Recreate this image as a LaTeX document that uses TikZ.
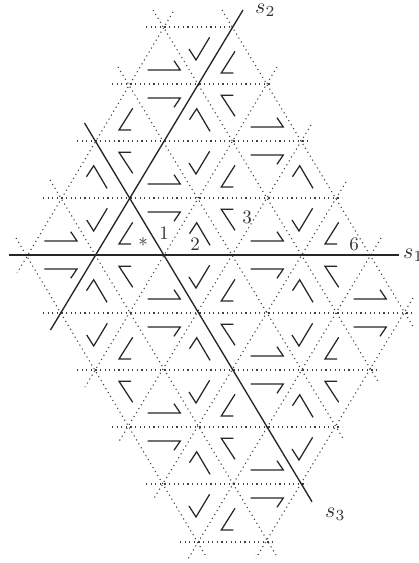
\documentclass[tikz,border=0pt]{standalone}
\usepackage{graphicx}
\newcommand{\lbl}[1]{\scalebox{1.9}{#1}}
\newcommand{\lbs}[1]{\scalebox{2.2}{#1}}
\newcommand{\flagA}[2]{\draw[flag,shift={(#1,#2)}] (-16.3,-14) -- (16.3,-14) -- (10,-23.3);}
\newcommand{\flagB}[2]{\draw[flag,shift={(#1,#2)}] (-16.3,14) -- (16.3,14) -- (10,23.3);}
\newcommand{\flagC}[2]{\draw[flag,shift={(#1,#2)}] (3,24.3) -- (-10.7,46) -- (1.3,46);}
\newcommand{\flagD}[2]{\draw[flag,shift={(#1,#2)}] (1.3,11.3) -- (-10.7,11.3) -- (3,32.3);}
\newcommand{\flagE}[2]{\draw[flag,shift={(#1,#2)}] (-8.5,35.7) -- (-1.3,24.7) -- (12,47.3);}
\newcommand{\flagF}[2]{\draw[flag,shift={(#1,#2)}] (-9,22) -- (-2,33) -- (11.6,10.3);}
\tikzset{
  flag/.style={line width=1.25pt,draw=black!85,line join=miter,line cap=butt},
  dotline/.style={line width=1.1pt,draw=black!75,dash pattern=on 1.1pt off 3.5pt},
  mirrorline/.style={line width=1.35pt,draw=black!85},
  lab/.style={inner sep=0pt,text=black!80}
}
\begin{document}
\begin{tikzpicture}[x=1pt,y=-1pt]
\useasboundingbox (0,0) rectangle (419,563);
\clip (0,0) rectangle (419,563);
% horizontal dotted lines
\foreach \a/\b/\y in {146/231/27,112/272/84,77/309/141,43/342/198,43/414/313,77/377/370,112/342/427,146/307/484,180/274/542}
  {\draw[dotline] (\a,\y) -- (\b,\y);}
% rising dotted lines
\foreach \a/\b/\c/\d in {173/12/17/273,277/67/85/387,311/125/118/443,346/182/153/500,381/238/188/559,413/298/256/558}
  {\draw[dotline] (\a,\b) -- (\c,\d);}
% falling dotted lines
\foreach \a/\b/\c/\d in {222/10/414/328,153/10/379/383,118/67/344/440,50/180/276/555,16/238/207/558}
  {\draw[dotline] (\a,\b) -- (\c,\d);}
% mirrors
\coordinate (s1a) at (9,255);
\coordinate (s1b) at (399,255);
\coordinate (s2a) at (50.5,330);
\coordinate (s2b) at (243,10);
\coordinate (s3a) at (84.5,123);
\coordinate (s3b) at (312,501.7);
\draw[mirrorline] (s1a) -- (s1b);
\draw[mirrorline] (s2a) -- (s2b);
\draw[mirrorline] (s3a) -- (s3b);
% flags
\foreach \x/\y in {164/84,267/141,164/198,60.7/255,267/255,164/313,370/313,267/370,164/427,267/484}
  {\flagA{\x}{\y}\flagB{\x}{\y}}
\foreach \x/\y in {232/27,129.7/84,232/141,129.7/198,335.7/198,232/255,129.7/313,335.7/313,232/370,232/484}
  {\flagC{\x}{\y}}
\foreach \x/\y in {232/84,129.7/141,232/198,129.7/255,335.7/255,232/313,129.7/370,335.7/370,232/427}
  {\flagD{\x}{\y}}
\foreach \x/\y in {198/84,95/141,301/141,198/198,95/255,301/255,198/313,301/370,198/427}
  {\flagE{\x}{\y}}
\foreach \x/\y in {198/27,198/141,95.7/198,301/198,198/255,95.7/313,301/313,198/370,301/427,198/484}
  {\flagF{\x}{\y}}
% labels
\node[lab,anchor=base west] (ls1) at (403,258) {\lbs{$s_1$}};
\node[lab,anchor=base west] (ls2) at (255,13.5) {\lbs{$s_2$}};
\node[lab,anchor=base west] (ls3) at (325,517) {\lbs{$s_3$}};
\node[lab] (star) at (143,242) {\lbl{$*$}};
\node[lab] (n1) at (164,233) {\lbl{1}};
\node[lab] (n2) at (195,244) {\lbl{2}};
\node[lab] (n3) at (247,217) {\lbl{3}};
\node[lab] (n6) at (354,244) {\lbl{6}};
\end{tikzpicture}
\end{document}
